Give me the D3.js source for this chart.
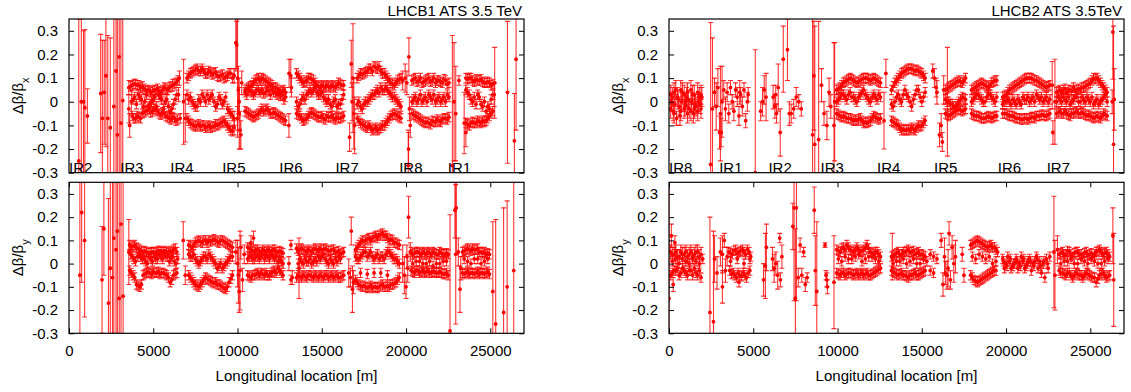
<!DOCTYPE html>
<html>
<head>
<meta charset="utf-8">
<script src="https://cdn.jsdelivr.net/npm/d3@7"></script>
<style>
  body { margin: 0; background: #fff; }
  text { font-family: "Liberation Sans", Arial, sans-serif; }
</style>
</head>
<body>
<div id="chart"></div>
<script>
// rows are [s (m), d(beta)/beta, error]; a missing error means the usual ~0.02
const typErr = 0.02;

const b1x = [
  [580,-.25,.6],[730,0,.35],[860,0,.3],[940,-.025,.33],[1090,-.06,.115],
  [1880,.035,.25],[1980,-.07,.33],[2090,.04,.22],[2190,.11,.3],[2300,-.07,.35],
  [2450,-.11,.38],[2660,-.02,.4],[2790,.13,.6],[2870,-.14,.5],[2980,.19,.5],
  [3080,-.09,.5],[3190,.005,.35],
  [3550,.06,.03],[3750,.07],[3950,.075],[4150,.07],[4350,.065],[4550,.05],[4750,.05],[4950,.045],[5150,.05],[5350,.045],[5550,.05],[5750,.055],[5950,.06],[6150,.07,.025],[6350,.08],[6550,.1,.03],
  [3550,-.03,.06],[3700,0,.05],[3900,.02],[4100,.03],[4300,.01],[4500,0],[4700,-.02],[4900,0],[5100,.02],[5300,.03],[5500,.01],[5700,0],[5900,-.02],[6100,-.03],[6300,.01],[6500,.03,.03],
  [3600,-.1,.05],[3750,-.06],[3950,-.07],[4150,-.065],[4350,-.05],[4550,-.04],[4750,-.03],[4950,-.04],[5150,-.035],[5350,-.05],[5550,-.045],[5750,-.06],[5950,-.07],[6150,-.065],[6350,-.08],[6600,-.07],
  [6800,0,.18],[6900,-.07,.1],
  [7000,.1],[7200,.12],[7400,.13],[7600,.14],[7800,.13],[8000,.13],[8200,.12],[8400,.125],[8600,.12],[8800,.11],[9000,.11],[9200,.1],[9400,.11],[9600,.12],[9800,.11,.03],
  [7000,.03],[7200,.02],[7400,-.01],[7600,-.02],[7800,0],[8000,.02],[8200,.03],[8400,.02],[8600,0],[8800,-.01],[9000,.01],[9200,0],[9400,-.03],[9600,-.05],[9800,-.07,.03],
  [7000,-.07],[7200,-.09],[7400,-.1],[7600,-.1],[7800,-.105],[8000,-.1],[8200,-.105],[8400,-.11],[8600,-.105],[8800,-.1],[9000,-.09],[9200,-.08],[9400,-.1],[9600,-.12],[9800,-.11,.03],
  [9900,.25,.12],[9950,.24,.1],[10000,.1,.25],[10050,.05,.1],[10100,-.05,.15],[10150,-.12,.08],[10200,-.14,.06],[10250,.08,.05],[10000,-.07,.05],[10100,0,.06],
  [10450,.05],[10650,.06],[10850,.07],[11050,.09],[11250,.1],[11450,.1],[11650,.09],[11850,.08],[12050,.07],[12250,.06],[12450,.05],[12650,.045],[12850,.04],
  [10450,.04],[10650,.05],[10850,.04],[11050,.04],[11250,.05],[11450,.05],[11650,.04],[11850,.045],[12050,.05],[12250,.04],[12450,.035],[12650,.03],[12850,.02],
  [10450,-.04],[10650,-.05],[10850,-.06],[11050,-.06],[11250,-.05],[11450,-.03],[11650,-.035],[11850,-.04],[12050,-.05],[12250,-.05],[12450,-.06],[12650,-.07],[12850,-.08],[13050,-.1,.05],
  [13060,.12,.06],[13160,.11,.07],[13200,.06,.04],
  [13500,.12],[13700,.1],[13900,.08],[14100,.09],[14300,.1],[14500,.09],[14700,.07],[14900,.06],[15100,.065],[15300,.07],[15500,.06],[15700,.065],[15900,.07],[16100,.075],[16300,.07],
  [13500,0],[13700,-.01],[13900,.02],[14100,.03],[14300,.05],[14500,.05],[14700,.04],[14900,.03],[15100,.02],[15300,0],[15500,-.01],[15700,0],[15900,-.02],[16100,-.01],[16300,.03],
  [13500,-.05],[13700,-.06],[13900,-.08],[14100,-.07],[14300,-.05],[14500,-.05],[14700,-.06],[14900,-.065],[15100,-.07],[15300,-.06],[15500,-.065],[15700,-.07],[15900,-.065],[16100,-.07],[16300,-.06],
  [16650,-.15,.06],[16750,.16,.1],[16850,.1,.23],[16900,-.05,.15],[16950,-.1,.12],[16800,0,.08],
  [17100,.1],[17300,.12],[17500,.12],[17700,.13],[17900,.14],[18100,.15],[18300,.14],[18500,.13],[18700,.12],[18900,.1],[19100,.08],[19300,.07],[19500,.09],[19700,.1],
  [17100,-.01],[17300,-.02],[17500,-.01],[17700,0],[17900,.02],[18100,.03],[18300,.05],[18500,.06],[18700,.05],[18900,.05],[19100,.03],[19300,.02],[19500,0],[19700,-.02],
  [17100,-.07],[17300,-.09],[17500,-.1],[17700,-.11],[17900,-.11],[18100,-.115],[18300,-.12],[18500,-.11],[18700,-.1],[18900,-.08],[19100,-.06],[19300,-.05],[19500,-.06],[19700,-.07],
  [19800,.09,.04],[19950,.1,.06],[20050,.08,.05],[20130,-.27,.15],[20150,-.2,.07],[20170,.19,.08],[20200,-.03,.05],[20250,-.1,.05],
  [20350,.09],[20550,.1],[20750,.09],[20950,.08],[21150,.09],[21350,.1],[21550,.09],[21750,.08],[21950,.09],[22150,.08],[22350,.09],[22550,.08],
  [20350,0],[20550,.02],[20750,.01],[20950,0],[21150,.02],[21350,.03],[21550,.01],[21750,0],[21950,.02],[22150,.01],[22350,0],[22550,.02],
  [20350,-.05],[20550,-.06],[20750,-.07],[20950,-.08],[21150,-.09],[21350,-.09],[21550,-.08],[21750,-.085],[21950,-.08],[22150,-.075],[22350,-.07],[22550,-.065],
  [22750,-.27,.55],[22850,0,.25],[22950,-.05,.2],
  [23140,.09],[23450,-.09,.13],[23550,-.13,.06],
  [23550,.1],[23750,.1],[23950,.09],[24150,.095],[24350,.09],[24550,.085],[24750,.08],[24950,.08],[25150,.075],
  [23550,.05],[23750,.03],[23950,0],[24150,-.01],[24350,.02],[24550,-.02],[24750,-.04],[24950,-.03],[25150,.03],
  [23550,-.09],[23750,-.1],[23950,-.085],[24150,-.09],[24350,-.085],[24550,-.08],[24750,-.08],[24950,-.06],[25150,-.04],
  [25260,.08,.15],[25230,.03,.05],
  [26020,.04,.3],[26430,-.165,.2],[26530,.18,.3]
];
// the monitors lying between those above, beam 1 horizontal
const b1xMid = [
  [3650,.065],[3850,.075],[4050,.07],[4250,.06],[4450,.055],[4650,.045],[4850,.04],[5050,.05],[5250,.055],[5450,.04],[5650,.06],[5850,.05],[6050,.065],[6250,.075],[6450,.09],
  [3800,.01],[4000,-.01],[4200,.02],[4400,-.02],[4600,.03],[4800,-.01],[5000,.01],[5200,-.02],[5400,.02],[5600,-.03],[5800,.01],[6000,-.04],[6200,-.01],[6400,.03],
  [3850,-.07],[4050,-.06],[4250,-.07],[4450,-.045],[4650,-.035],[4850,-.045],[5050,-.03],[5250,-.04],[5450,-.055],[5650,-.05],[5850,-.065],[6050,-.075],[6250,-.07],[6450,-.075],
  [7100,.11],[7300,.125],[7500,.135],[7700,.13],[7900,.14],[8100,.12],[8300,.13],[8500,.115],[8700,.125],[8900,.105],[9100,.115],[9300,.105],[9500,.12],[9700,.1],
  [7100,.01],[7300,0],[7500,-.02],[7700,.01],[7900,.03],[8100,0],[8300,.01],[8500,.03],[8700,-.02],[8900,.02],[9100,-.01],[9300,.02],[9500,-.04],[9700,-.06],
  [7100,-.08],[7300,-.095],[7500,-.105],[7700,-.095],[7900,-.1],[8100,-.11],[8300,-.1],[8500,-.105],[8700,-.095],[8900,-.095],[9100,-.085],[9300,-.09],[9500,-.11],[9700,-.125],
  [10550,.055],[10750,.065],[10950,.08],[11150,.095],[11350,.09],[11550,.095],[11750,.085],[11950,.075],[12150,.06],[12350,.055],[12550,.04],[12750,.05],
  [10550,.03],[10750,.045],[10950,.03],[11150,.05],[11350,.04],[11550,.035],[11750,.05],[11950,.03],[12150,.04],[12350,.03],[12550,.025],[12750,.01],
  [10550,-.045],[10750,-.055],[10950,-.065],[11150,-.055],[11350,-.04],[11550,-.04],[11750,-.03],[11950,-.05],[12150,-.045],[12350,-.055],[12550,-.065],[12750,-.075],
  [13600,.11],[13800,.09],[14000,.085],[14200,.1],[14400,.095],[14600,.08],[14800,.065],[15000,.07],[15200,.06],[15400,.065],[15600,.07],[15800,.06],[16000,.08],[16200,.07],
  [13600,-.02],[13800,.01],[14000,.01],[14200,.04],[14400,.04],[14600,.06],[14800,.03],[15000,.04],[15200,.01],[15400,.01],[15600,-.02],[15800,.01],[16000,-.01],[16200,.01],
  [13600,-.055],[13800,-.07],[14000,-.075],[14200,-.06],[14400,-.045],[14600,-.055],[14800,-.065],[15000,-.06],[15200,-.075],[15400,-.065],[15600,-.06],[15800,-.075],[16000,-.07],[16200,-.065],
  [17200,.11],[17400,.115],[17600,.125],[17800,.14],[18000,.13],[18200,.145],[18400,.15],[18600,.12],[18800,.11],[19000,.09],[19200,.075],[19400,.08],[19600,.095],
  [17200,0],[17400,-.03],[17600,0],[17800,.01],[18000,.03],[18200,.04],[18400,.04],[18600,.05],[18800,.06],[19000,.04],[19200,.02],[19400,.01],[19600,-.01],
  [17200,-.08],[17400,-.095],[17600,-.105],[17800,-.1],[18000,-.12],[18200,-.11],[18400,-.115],[18600,-.1],[18800,-.09],[19000,-.07],[19200,-.055],[19400,-.055],[19600,-.065],
  [20450,.095],[20650,.085],[20850,.1],[21050,.085],[21250,.095],[21450,.085],[21650,.1],[21850,.09],[22050,.085],[22250,.095],[22450,.075],
  [20450,.01],[20650,0],[20850,.03],[21050,.01],[21250,0],[21450,.02],[21650,.03],[21850,.01],[22050,0],[22250,.02],[22450,.03],
  [20450,-.055],[20650,-.065],[20850,-.075],[21050,-.085],[21250,-.085],[21450,-.095],[21650,-.085],[21850,-.075],[22050,-.085],[22250,-.07],[22450,-.075],
  [23650,.095],[23850,.1],[24050,.085],[24250,.09],[24450,.095],[24650,.08],[24850,.085],[25050,.07],
  [23650,.04],[23850,.01],[24050,.02],[24250,.03],[24450,-.01],[24650,0],[24850,-.02],[25050,.01],
  [23650,-.095],[23850,-.09],[24050,-.09],[24250,-.08],[24450,-.09],[24650,-.085],[24850,-.07],[25050,-.05]
];

const b1y = [
  [645,-.05,.6],[750,.22,.3],[925,.1,.33],[1960,-.07,.23],[2070,.15,.2],[2340,-.17,.45],[2450,-.02,.45],
  [2580,-.06,.5],[2660,.11,.5],[2790,.06,.55],[2870,.14,.5],[2980,-.15,.5],[3085,.17,.5],[3210,-.14,.5],
  [3550,.05,.14],
  [3600,.08],[3800,.075],[4000,.07],[4200,.06],[4400,.05],[4600,.05],[4800,.045],[5000,.05],[5200,.05],[5400,.055],[5600,.05],[5800,.05],[6000,.055],[6200,.06],[6400,.05],
  [3650,.04],[3850,.02],[4050,.03],[4250,.03],[4450,.02],[4650,0],[4850,.02],[5050,.03],[5250,.02],[5450,.03],[5650,.04],[5850,.03],[6050,.02],[6250,.01],[6450,.02],
  [3600,-.03],[3800,-.05],[4000,-.09],[4200,-.1],[4400,-.05],[4600,-.04],[4800,-.04],[5000,-.035],[5200,-.04],[5400,-.045],[5600,-.04],[5800,-.05],[6000,-.08],[6200,-.05],[6400,-.04],
  [6780,.1,.08],[6900,-.05,.04],
  [7100,.08],[7300,.07],[7500,.09],[7700,.1],[7900,.09],[8100,.1],[8300,.1],[8500,.1],[8700,.1],[8900,.09],[9100,.1],[9300,.09],[9500,.08],[9700,.07],
  [7100,.04],[7300,.03],[7500,.02],[7700,0],[7900,.02],[8100,.03],[8300,.04],[8500,.02],[8700,0],[8900,-.01],[9100,-.02],[9300,0],[9500,.02],[9700,.03],
  [7100,-.05],[7300,-.07],[7500,-.09],[7700,-.1],[7900,-.08],[8100,-.06],[8300,-.07],[8500,-.08],[8700,-.08],[8900,-.09],[9100,-.1],[9300,-.11],[9500,-.08],[9700,-.05],
  [9900,.05,.05],[10000,0,.1],[10050,-.05,.12],[10100,-.12,.09],[10150,-.03,.17],[10200,.07,.05],[10300,-.07,.05],[10400,.04,.04],[10950,.11,.03],[10800,.09,.03],
  [10600,.07],[10800,.06],[11000,.05],[11200,.06],[11400,.05],[11600,.055],[11800,.06],[12000,.05],[12200,.06],[12400,.05],[12600,.05],
  [10600,.02],[10800,.03],[11000,.02],[11200,.03],[11400,.03],[11600,.02],[11800,.03],[12000,.04],[12200,.02],[12400,.01],[12600,.01],
  [10600,-.05],[10800,-.06],[11000,-.05],[11200,-.04],[11400,-.04],[11600,-.05],[11800,-.05],[12000,-.04],[12200,-.03],[12400,-.02],[12600,-.04],
  [13050,0,.03],[13170,.08],[13170,-.07],[13250,-.06,.03],
  [13650,-.02,.13],
  [13500,.065],[13700,.06],[13900,.06],[14100,.05],[14300,.055],[14500,.06],[14700,.06],[14900,.065],[15100,.06],[15300,.06],[15500,.055],[15700,.06],[15900,.05],[16100,.04],[16300,.05],
  [13600,0],[13800,.01],[14000,.02],[14200,.01],[14400,0],[14600,.02],[14800,.03],[15000,.03],[15200,.02],[15400,0],[15600,.01],[15800,.02],[16000,.03],
  [13500,-.06],[13700,-.055],[13900,-.05],[14100,-.06],[14300,-.05],[14500,-.06],[14700,-.055],[14900,-.05],[15100,-.06],[15300,-.05],[15500,-.055],[15700,-.06],[15900,-.05],[16100,-.06],[16300,-.05],
  [16600,-.04,.06],[16700,-.06,.04],[16750,.14,.06],[16820,-.11,.1],[16880,-.08,.05],
  [17000,.06],[17200,.08],[17400,.1],[17600,.1],[17800,.11],[18000,.11],[18200,.12],[18400,.12],[18600,.13],[18800,.12],[19000,.1],[19200,.1],[19400,.09],[19600,.08],
  [17000,.03],[17200,.02],[17400,.04],[17600,.05],[17800,.04],[18000,.03],[18200,.03],[18400,.02],[18600,.03],[18800,.04],[19000,.05],[19200,.03],[19400,.02],[19600,0],
  [17000,-.07],[17200,-.09],[17400,-.1],[17600,-.1],[17800,-.1],[18000,-.105],[18200,-.1],[18400,-.1],[18600,-.09],[18800,-.1],[19000,-.1],[19200,-.09],[19400,-.08],[19600,-.06],
  [17300,-.04],[17700,-.045],[18100,-.04],[18500,-.04],[18900,-.05],
  [19800,0,.08],[19900,-.05,.08],[20000,-.1,.05],[20050,.03,.05],[20100,-.02,.06],[20150,.2,.09],[20250,.05,.04],
  [20300,.05],[20500,.045],[20700,.05],[20900,.04],[21100,.045],[21300,.05],[21500,.04],[21700,.045],[21900,.04],[22100,.045],[22300,.04],[22500,.04],
  [20400,0],[20800,.01],[21200,0],[21600,-.01],[22000,0],[22400,.01],
  [20300,-.03],[20500,-.04],[20700,-.03],[20900,-.035],[21100,-.04],[21300,-.03],[21500,-.04],[21700,-.035],[21900,-.04],[22100,-.04],[22300,-.045],[22500,-.05],
  [22610,-.29,.5],
  [22900,.23,.12],[22950,.04,.3],[22980,.24,.2],[23100,.05,.06],[23200,-.11,.1],[23250,-.02,.05],
  [23350,.05],[23550,.06],[23750,.06],[23950,.065],[24150,.06],[24350,.05],[24550,.045],[24750,.04],[24950,.04],
  [23450,.02],[23850,0],[24250,.02],[24650,.01],
  [23350,-.04],[23550,-.04],[23750,-.045],[23950,-.04],[24150,-.04],[24350,-.045],[24550,-.04],[24750,-.04],[24950,-.045],
  [25150,-.12,.3],[25320,-.26,.45],[25790,-.21,.45],[26000,-.1,.37],[26390,-.03,.4]
];
const b1yMid = [
  [3700,.07],[3900,.08],[4100,.065],[4300,.055],[4500,.055],[4700,.045],[4900,.05],[5100,.045],[5300,.055],[5500,.05],[5700,.055],[5900,.045],[6100,.05],[6300,.065],
  [3750,.03],[3950,.01],[4150,.04],[4350,.02],[4550,.01],[4750,.03],[4950,.01],[5150,.02],[5350,.04],[5550,.02],[5750,.03],[5950,.01],[6150,.03],[6350,0],
  [3700,-.04],[3900,-.06],[4100,-.095],[4300,-.09],[4500,-.045],[4700,-.035],[4900,-.045],[5100,-.04],[5300,-.035],[5500,-.04],[5700,-.045],[5900,-.06],[6100,-.07],[6300,-.045],
  [7200,.075],[7400,.08],[7600,.095],[7800,.095],[8000,.1],[8200,.09],[8400,.095],[8600,.105],[8800,.095],[9000,.1],[9200,.095],[9400,.085],[9600,.075],
  [7200,.03],[7400,.04],[7600,.01],[7800,.01],[8000,.03],[8200,.02],[8400,.03],[8600,.01],[8800,-.02],[9000,0],[9200,-.01],[9400,.01],[9600,.03],
  [7200,-.06],[7400,-.08],[7600,-.095],[7800,-.09],[8000,-.07],[8200,-.065],[8400,-.075],[8600,-.085],[8800,-.09],[9000,-.095],[9200,-.105],[9400,-.1],[9600,-.065],
  [10700,.065],[10900,.055],[11100,.06],[11300,.05],[11500,.06],[11700,.05],[11900,.055],[12100,.06],[12300,.05],[12500,.055],[12700,.045],
  [10700,.03],[10900,.02],[11100,.03],[11300,.02],[11500,.04],[11700,.03],[11900,.02],[12100,.03],[12300,.03],[12500,.02],[12700,0],
  [10700,-.055],[10900,-.05],[11100,-.045],[11300,-.05],[11500,-.045],[11700,-.04],[11900,-.05],[12100,-.035],[12300,-.04],[12500,-.03],[12700,-.05],
  [13600,.055],[13800,.065],[14000,.055],[14200,.06],[14400,.05],[14600,.065],[14800,.055],[15000,.06],[15200,.065],[15400,.055],[15600,.06],[15800,.05],[16000,.055],[16200,.045],
  [13700,.02],[13900,0],[14100,.01],[14300,.02],[14500,.01],[14700,.01],[14900,.02],[15100,.04],[15300,.01],[15500,.02],[15700,0],[15900,.01],[16100,.02],
  [13600,-.05],[13800,-.06],[14000,-.055],[14200,-.05],[14400,-.055],[14600,-.05],[14800,-.06],[15000,-.055],[15200,-.05],[15400,-.06],[15600,-.05],[15800,-.055],[16000,-.06],[16200,-.055],
  [17100,.07],[17300,.09],[17500,.095],[17700,.105],[17900,.1],[18100,.115],[18300,.11],[18500,.125],[18700,.12],[18900,.11],[19100,.105],[19300,.09],[19500,.085],
  [17100,.02],[17300,.03],[17500,.05],[17700,.03],[17900,.05],[18100,.02],[18300,.04],[18500,.03],[18700,.02],[18900,.05],[19100,.04],[19300,.02],[19500,.01],
  [17100,-.08],[17300,-.095],[17500,-.095],[17700,-.105],[17900,-.095],[18100,-.1],[18300,-.105],[18500,-.095],[18700,-.1],[18900,-.095],[19100,-.09],[19300,-.085],[19500,-.07],
  [20400,.04],[20600,.05],[20800,.045],[21000,.05],[21200,.04],[21400,.045],[21600,.05],[21800,.04],[22000,.05],[22200,.04],[22400,.045],
  [20600,.01],[21000,0],[21400,.01],[21800,0],[22200,.01],
  [20400,-.035],[20600,-.03],[20800,-.04],[21000,-.03],[21200,-.035],[21400,-.04],[21600,-.035],[21800,-.04],[22000,-.035],[22200,-.045],[22400,-.04],
  [23450,.055],[23650,.065],[23850,.055],[24050,.06],[24250,.065],[24450,.05],[24650,.05],[24850,.045],
  [23650,.01],[24050,.02],[24450,0],[24850,.02],
  [23450,-.045],[23650,-.035],[23850,-.04],[24050,-.045],[24250,-.035],[24450,-.04],[24650,-.045],[24850,-.035]
];

const b2x = [
  [100,.03,.04],[300,.04,.04],[500,.02,.04],[700,.05,.04],[900,.03,.04],[1100,.04,.04],[1300,.05,.04],[1500,.03,.04],[1700,.04,.04],[1900,.03,.04],
  [150,0,.04],[350,-.01,.04],[550,.01,.04],[750,0,.04],[950,-.02,.04],[1150,.01,.04],[1350,0,.04],[1550,-.01,.04],[1750,0,.04],[1950,.02,.04],
  [100,-.03,.04],[300,-.05,.04],[450,-.07,.03],[700,-.04,.04],[900,-.03,.04],[1100,-.05,.04],[1300,-.04,.04],[1500,-.03,.04],[1700,-.04,.04],[1900,-.03,.04],
  [2470,-.265,.6],[2580,-.03,.3],
  [2700,.04,.06],[2800,-.02,.1],[2900,.06,.08],[3000,-.13,.07],[3050,-.05,.2],[3100,-.13,.06],[3150,0,.15],[3250,.05,.04],[3350,-.03,.05],[3450,.04,.04],
  [3550,-.05,.04],[3650,.06,.03],[3750,0,.03],[3850,-.04,.04],[3950,.05,.03],[4050,.02,.04],[4150,-.06,.04],[4200,.04,.05],[4250,.03,.03],[4350,-.02,.04],
  [4450,.05,.03],[4550,-.08,.03],[4650,0,.04],[4700,.03,.03],
  [5120,-.3,.52],
  [5440,-.04,.04],[5550,0,.06],[5650,.05,.06],[5760,.02,.1],
  [6180,.02,.05],[6280,-.02,.05],[6330,.03,.04],[6380,-.05,.04],[6480,.06,.1],[6600,-.13,.1],[6780,.18,.14],[7030,.22,.13],[7140,-.05,.05],
  [7250,-.05,.04],[7400,-.03,.04],[7550,.02,.04],[7700,0,.03],[7850,-.03,.03],
  [8520,-.14,.5],[8600,.11,.23],[8650,-.18,.5],[8880,-.16,.5],[9050,.07,.07],[9200,-.05,.05],[9370,-.1,.06],[9500,.04,.06],[9600,-.02,.05],[9790,-.1,.35],[9830,0,.25],
  [9950,.05],[10150,.06],[10350,.08],[10550,.09],[10750,.1],[10950,.09],[11150,.08],[11350,.09],[11550,.1],[11750,.1],[11950,.09],[12150,.1],[12350,.09],[12550,.08],
  [9950,0],[10150,.02],[10350,.03],[10550,.01],[10750,.04],[10950,.02],[11150,0],[11350,.03],[11550,.05],[11750,.02],[11950,0],[12150,.03],[12350,.01],[12550,.02],
  [9950,-.05],[10150,-.06],[10350,-.06],[10550,-.07],[10750,-.07],[10950,-.08],[11150,-.08],[11350,-.07],[11550,-.09],[11750,-.09],[11950,-.08],[12150,-.06],[12350,-.07],[12550,-.07],
  [12760,-.08,.12],[12870,.12,.06],
  [13200,.05],[13400,.08],[13600,.1],[13800,.12],[14000,.13],[14200,.14],[14400,.14],[14600,.13],[14800,.13],[15000,.12],[15200,.1],
  [13200,-.01],[13400,0],[13600,.03],[13800,0],[14000,.05],[14200,.02],[14400,-.02],[14600,.03],[14800,.05],[15000,0],[15200,.04],
  [13200,-.08],[13400,-.09],[13600,-.1],[13800,-.12],[14000,-.12],[14200,-.115],[14400,-.11],[14600,-.12],[14800,-.1],[15000,-.1],[15200,-.08],
  [15650,.13,.03],[15750,.1,.04],[15850,.06,.04],[15900,.04,.05],[16050,-.14,.05],[16150,-.1,.05],[16220,-.17,.04],[16300,.05,.06],[16520,0,.23],
  [16400,.05],[16600,.06],[16800,.07],[17000,.08],[17200,.09],[17400,.08],[17600,.1],
  [16400,.01],[16600,0],[16800,-.01],[17000,-.02],[17200,0],[17400,.02],[17600,.01],
  [16400,-.05],[16600,-.06],[16800,-.05],[17000,-.04],[17200,-.03],[17400,-.04],[17600,-.03],
  [17950,.05],[18150,.06],[18350,.07],[18550,.08],[18750,.07],[18950,.06],[19150,.08],[19350,.09],
  [17950,0],[18150,.02],[18350,.03],[18550,.01],[18750,0],[18950,.03],[19150,.02],[19350,0],
  [17950,-.05],[18150,-.06],[18350,-.06],[18550,-.07],[18750,-.07],[18950,-.06],[19150,-.07],[19350,-.06],
  [19800,.02],[20000,.03],[20200,.05],[20400,.06],[20600,.07],[20800,.08],[21000,.09],[21200,.1],[21400,.1],[21600,.095],[21800,.09],[22000,.08],[22200,.07],[22400,.06],[22600,.07],
  [19800,-.01],[20000,0],[20200,0],[20400,.01],[20600,-.01],[20800,0],[21000,.02],[21200,.01],[21400,0],[21600,.02],[21800,.03],[22000,.01],[22200,0],[22400,.02],[22600,.01],
  [19800,-.05],[20000,-.05],[20200,-.06],[20400,-.06],[20600,-.07],[20800,-.07],[21000,-.075],[21200,-.07],[21400,-.07],[21600,-.065],[21800,-.06],[22000,-.06],[22200,-.055],[22400,-.06],[22600,-.05],
  [22740,.07,.1],[22780,-.13,.05],[22900,0,.18],
  [23000,.04],[23200,.05],[23400,.05],[23600,.04],[23800,.05],[24000,.06],[24200,.05],[24400,.05],[24600,.06],[24800,.07],[25000,.08],[25200,.1],[25400,.1],[25600,.08],[25800,.06],[26000,.04],
  [23000,0],[23200,.01],[23400,.02],[23600,0],[23800,-.01],[24000,.01],[24200,.02],[24400,0],[24600,.01],[24800,.02],[25000,0],[25200,-.01],[25400,.01],[25600,0],[25800,.02],[26000,0],
  [23000,-.05],[23200,-.04],[23400,-.05],[23600,-.05],[23800,-.06],[24000,-.05],[24200,-.04],[24400,-.05],[24600,-.05],[24800,-.06],[25000,-.06],[25200,-.07],[25400,-.06],[25600,-.07],[25800,-.05],[26000,-.06],
  [26300,0,.05],[26340,.295,.2],[26380,-.18,.5],[26420,.01,.13]
];
const b2xMid = [
  [200,.02,.04],[400,.05,.04],[600,-.02,.04],[800,.04,.04],[1000,0,.04],[1200,-.03,.04],[1400,.03,.04],[1600,-.02,.04],[1800,.02,.04],
  [250,-.04,.04],[650,-.06,.04],[1050,.02,.04],[1450,-.05,.04],[1850,-.01,.04],
  [10050,.055],[10250,.07],[10450,.085],[10650,.095],[10850,.095],[11050,.085],[11250,.085],[11450,.095],[11650,.1],[11850,.095],[12050,.095],[12250,.095],[12450,.085],
  [10050,.01],[10250,.03],[10450,.02],[10650,.03],[10850,.02],[11050,.01],[11250,.02],[11450,.04],[11650,.03],[11850,.01],[12050,.02],[12250,.02],[12450,.03],
  [10050,-.055],[10250,-.065],[10450,-.065],[10650,-.07],[10850,-.075],[11050,-.075],[11250,-.075],[11450,-.08],[11650,-.085],[11850,-.085],[12050,-.07],[12250,-.065],[12450,-.075],
  [13300,.065],[13500,.09],[13700,.11],[13900,.125],[14100,.135],[14300,.14],[14500,.135],[14700,.135],[14900,.125],[15100,.11],
  [13300,-.02],[13500,.02],[13700,.01],[13900,.03],[14100,.03],[14300,0],[14500,.01],[14700,.05],[14900,.02],[15100,.02],
  [13300,-.085],[13500,-.095],[13700,-.11],[13900,-.115],[14100,-.12],[14300,-.12],[14500,-.115],[14700,-.11],[14900,-.105],[15100,-.09],
  [16500,.055],[16700,.065],[16900,.075],[17100,.085],[17300,.085],[17500,.09],
  [16500,0],[16700,-.01],[16900,-.02],[17100,-.01],[17300,.01],[17500,.015],
  [16500,-.055],[16700,-.055],[16900,-.045],[17100,-.035],[17300,-.035],[17500,-.035],
  [18050,.055],[18250,.065],[18450,.075],[18650,.075],[18850,.065],[19050,.07],[19250,.085],[19450,.09],
  [18050,.01],[18250,.03],[18450,.02],[18650,0],[18850,.02],[19050,.03],[19250,.01],[19450,.02],
  [18050,-.055],[18250,-.06],[18450,-.065],[18650,-.07],[18850,-.065],[19050,-.065],[19250,-.065],[19450,-.06],
  [19900,.025],[20100,.04],[20300,.055],[20500,.065],[20700,.075],[20900,.085],[21100,.095],[21300,.1],[21500,.1],[21700,.09],[21900,.085],[22100,.075],[22300,.065],[22500,.065],
  [19900,0],[20100,.01],[20300,-.01],[20500,0],[20700,.01],[20900,-.01],[21100,.01],[21300,.02],[21500,.01],[21700,0],[21900,.02],[22100,.02],[22300,.01],[22500,0],
  [19900,-.05],[20100,-.055],[20300,-.06],[20500,-.065],[20700,-.07],[20900,-.075],[21100,-.07],[21300,-.075],[21500,-.065],[21700,-.07],[21900,-.06],[22100,-.055],[22300,-.06],[22500,-.055],
  [23100,.045],[23300,.04],[23500,.055],[23700,.05],[23900,.045],[24100,.05],[24300,.055],[24500,.06],[24700,.065],[24900,.075],[25100,.09],[25300,.095],[25500,.09],[25700,.07],[25900,.05],
  [23100,.02],[23300,0],[23500,.01],[23700,.02],[23900,0],[24100,.02],[24300,0],[24500,.02],[24700,0],[24900,.01],[25100,.02],[25300,0],[25500,-.01],[25700,.01],[25900,.03],
  [23100,-.045],[23300,-.05],[23500,-.04],[23700,-.055],[23900,-.05],[24100,-.045],[24300,-.05],[24500,-.045],[24700,-.055],[24900,-.055],[25100,-.065],[25300,-.065],[25500,-.065],[25700,-.06],[25900,-.055]
];

const b2y = [
  [0,-.15,.5],
  [100,.05,.03],[300,.04,.03],[500,.03,.03],[700,.05,.03],[900,.04,.03],[1100,.03,.03],[1300,.05,.03],[1500,.04,.03],[1700,.05,.03],[1900,.04,.03],
  [200,.01],[400,.02],[600,0],[800,.02],[1000,.01],[1200,0],[1400,.02],[1600,.01],[1800,0],[2000,.02],
  [100,-.05],[300,-.03],[500,-.02],[700,-.04],[900,-.03],[1100,-.05],[1300,-.03],[1500,-.02],[1700,-.05],[1900,-.06],
  [140,.12,.05],[250,-.09,.03],[350,.09,.03],
  [2430,-.21,.41],[2640,-.25,.39],
  [2700,.02,.1],[2850,-.04,.07],[3050,.05,.06],[3170,.04,.08],[3170,-.1,.07],[3280,.1,.03],[3350,-.03,.05],[3450,.03,.04],
  [3550,.05],[3750,.04],[3950,.06],[4150,.05],[4350,.06],[4550,.04],[4750,.05],[4850,.03],
  [3650,.01],[4050,.02],[4450,0],[4800,.02],
  [3600,-.03],[3800,-.04],[4000,-.06],[4200,-.05],[4400,-.04],[4600,-.06],[4800,-.03],[4150,-.08],
  [5610,-.07,.07],[5720,-.01,.14],[5780,.07,.1],
  [6140,.02,.05],[6240,-.02,.06],[6340,0,.05],[6450,-.05,.06],[6570,.11],[6610,-.07,.03],[6700,.03,.05],
  [7350,.16,.1],[7420,.24,.4],[7500,-.15,.3],[7560,.24,.4],[7670,-.06,.04],[7780,.08,.03],[7880,-.05,.03],[7990,.05],[8090,-.09,.03],[8200,-.06],
  [8620,.23,.1],[8680,-.03,.15],[8770,-.12,.3],
  [9260,.08,.01],[9320,-.05],[9360,-.07,.03],[9400,-.1,.03],
  [9790,-.08,.2],
  [9950,.06],[10150,.05],[10350,.07],[10550,.08],[10750,.06],[10950,.05],[11150,.07],[11350,.05],[11550,.06],[11750,.08],[11950,.05],[12150,.04],[12350,.05],[12550,.03],
  [10050,.02],[10450,.03],[10850,.02],[11250,.04],[11650,.02],[12050,.03],[12450,.01],
  [9950,-.04],[10150,-.05],[10350,-.04],[10550,-.045],[10750,-.04],[10950,-.05],[11150,-.04],[11350,-.045],[11550,-.05],[11750,-.04],[11950,-.05],[12150,-.04],[12350,-.03],[12550,-.02],
  [13250,.03,.1],
  [13200,.03],[13400,.04],[13600,.05],[13800,.04],[14000,.05],[14200,.06],[14400,.05],[14600,.04],[14800,.05],[15000,.04],[15200,.03],
  [13300,0],[13700,.01],[14100,0],[14500,.02],[14900,0],[15300,.01],
  [13200,-.03],[13400,-.04],[13600,-.05],[13800,-.04],[14000,-.05],[14200,-.06],[14400,-.05],[14600,-.04],[14800,-.05],[15000,-.04],[15200,-.03],
  [15500,.04],[15700,.03],[15900,.02],[15500,-.03],[15700,-.04],
  [16150,.1,.03],[16260,-.09,.05],[16350,.03,.08],[16400,-.04,.05],[16500,-.05,.06],[16560,-.02,.08],[16620,.13,.05],[16700,-.07,.04],[16800,.07,.05],[16900,0,.08],[17000,.03,.07],
  [17400,.04,.03],[17500,-.05,.03],
  [17900,.08],[18100,.09],[18300,.1],[18500,.09],[18700,.08],[18900,.07],[19100,.08],[19300,.07],[19500,.05],
  [18000,.03],[18400,.04],[18800,.02],[19200,0],
  [17900,-.05],[18100,-.07],[18300,-.08],[18500,-.07],[18700,-.06],[18900,-.05],[19100,-.04],[19300,-.03],
  [19800,.02],[20000,0],[20200,.01],[20400,-.01],[20600,.02],[20800,0],[21000,.01],[21200,-.01],[21400,.02],[21600,0],[21800,.03],[22000,.01],[22200,0],[22400,.02],[22600,.03],
  [19900,-.02],[20100,.03],[20300,-.02],[20500,0],[20700,-.02],[20900,.03],[21100,-.02],[21300,.01],[21500,-.03],[21700,.01],[21900,-.02],[22100,-.04],[22300,-.06],[22500,-.02],
  [22840,.05,.24],[22900,-.05,.15],[23050,.06,.06],
  [23150,.04],[23350,.05],[23550,.04],[23750,.05],[23950,.03],[24150,.05],[24350,.04],[24550,.03],[24750,.05],[24950,.04],[25150,.03],[25350,.05],[25550,.06],[25750,.04],[25950,.05],[26150,.03],
  [23250,0],[23650,.01],[24050,0],[24450,.02],[24850,0],[25250,.01],[25650,0],[26050,.02],
  [23150,-.03],[23350,-.04],[23550,-.05],[23750,-.04],[23950,-.06],[24150,-.04],[24350,-.05],[24550,-.06],[24750,-.04],[24950,-.05],[25150,-.06],[25350,-.08],[25550,-.05],[25750,-.04],[25950,-.06],[26150,-.05],
  [26340,.12,.12],[26390,-.07,.2]
];
const b2yMid = [
  [200,.04,.03],[400,.05,.03],[600,.03,.03],[800,.04,.03],[1000,.05,.03],[1200,.04,.03],[1400,.03,.03],[1600,.05,.03],[1800,.03,.03],
  [200,-.04],[400,-.03],[600,-.05],[800,-.02],[1000,-.04],[1200,-.03],[1400,-.05],[1600,-.04],[1800,-.03],
  [3650,.045],[3850,.055],[4050,.045],[4250,.055],[4450,.05],[4650,.06],[3700,-.045],[3900,-.05],[4100,-.04],[4300,-.055],[4500,-.05],[4700,-.04],
  [10050,.055],[10250,.065],[10450,.06],[10650,.07],[10850,.055],[11050,.06],[11250,.06],[11450,.055],[11650,.07],[11850,.065],[12050,.045],[12250,.05],[12450,.04],
  [10250,.01],[10650,.02],[11050,.03],[11450,.01],[11850,.03],[12250,.02],
  [10050,-.045],[10250,-.04],[10450,-.05],[10650,-.04],[10850,-.045],[11050,-.045],[11250,-.05],[11450,-.04],[11650,-.045],[11850,-.05],[12050,-.045],[12250,-.035],[12450,-.025],
  [13300,.035],[13500,.045],[13700,.04],[13900,.05],[14100,.055],[14300,.05],[14500,.055],[14700,.045],[14900,.04],[15100,.035],
  [13500,.01],[13900,.02],[14300,.01],[14700,0],[15100,.02],
  [13300,-.035],[13500,-.045],[13700,-.045],[13900,-.05],[14100,-.055],[14300,-.05],[14500,-.045],[14700,-.05],[14900,-.045],[15100,-.035],
  [18000,.085],[18200,.095],[18400,.095],[18600,.085],[18800,.075],[19000,.075],[19200,.07],[19400,.06],
  [18200,.02],[18600,.03],[19000,.03],[19400,.01],
  [18000,-.06],[18200,-.075],[18400,-.075],[18600,-.065],[18800,-.055],[19000,-.045],[19200,-.035],[19400,-.03],
  [19850,.01],[20050,-.01],[20250,.02],[20450,0],[20650,.01],[20850,-.01],[21050,.02],[21250,0],[21450,.01],[21650,-.01],[21850,.02],[22050,-.01],[22250,.01],[22450,0],
  [23250,.045],[23450,.04],[23650,.055],[23850,.04],[24050,.045],[24250,.05],[24450,.04],[24650,.045],[24850,.035],[25050,.045],[25250,.04],[25450,.055],[25650,.05],[25850,.045],[26050,.04],
  [23450,.01],[23850,.02],[24250,0],[24650,.01],[25050,.02],[25450,0],[25850,.01],
  [23250,-.04],[23450,-.045],[23650,-.04],[23850,-.05],[24050,-.05],[24250,-.045],[24450,-.05],[24650,-.05],[24850,-.045],[25050,-.055],[25250,-.06],[25450,-.065],[25650,-.045],[25850,-.05],[26050,-.055]
];

// interaction region labels: [name, s where the label starts]
const irB1 = [['IR2',0],['IR3',3040],['IR4',6010],['IR5',9090],['IR6',12480],['IR7',15810],['IR8',19590],['IR1',22480]];
const irB2 = [['IR8',0],['IR1',2980],['IR2',5900],['IR3',8990],['IR4',12350],['IR5',15730],['IR6',19510],['IR7',22410]];

const xTicks = [0, 5000, 10000, 15000, 20000, 25000];
const yTicks = [-0.3, -0.2, -0.1, 0, 0.1, 0.2, 0.3];

const panels = [
  { id: 'p1', rows: b1x.concat(b1xMid), left: 69, top: 19, bottom: 172.7, sub: 'x', irs: irB1, title: 'LHCB1 ATS 3.5 TeV' },
  { id: 'p2', rows: b1y.concat(b1yMid), left: 69, top: 182.3, bottom: 333.3, sub: 'y', xAxis: true },
  { id: 'p3', rows: b2x.concat(b2xMid), left: 669, top: 19, bottom: 172.7, sub: 'x', irs: irB2, title: 'LHCB2 ATS 3.5TeV' },
  { id: 'p4', rows: b2y.concat(b2yMid), left: 669, top: 182.3, bottom: 333.3, sub: 'y', xAxis: true }
];
const plotW = 455;
const red = '#ff0000';

const svg = d3.select('#chart').append('svg')
  .attr('width', 1131)
  .attr('height', 392);

panels.forEach(p => {
  const x = d3.scaleLinear().domain([0, 27000]).range([p.left, p.left + plotW]);
  const y = d3.scaleLinear().domain([-0.3, 0.35]).range([p.bottom, p.top]);

  svg.append('clipPath').attr('id', 'clip-' + p.id)
    .append('rect')
    .attr('x', p.left).attr('y', p.top)
    .attr('width', plotW).attr('height', p.bottom - p.top);

  const g = svg.append('g').attr('clip-path', `url(#clip-${p.id})`);
  const rows = p.rows.map(r => ({ s: r[0], v: r[1], e: r.length > 2 ? r[2] : typErr }));

  // error bars
  const bars = g.append('g')
    .attr('stroke', red)
    .attr('stroke-width', 1.1)
    .attr('stroke-opacity', 0.8);
  bars.selectAll('line.bar')
    .data(rows)
    .enter().append('line')
    .attr('class', 'bar')
    .attr('x1', d => x(d.s)).attr('x2', d => x(d.s))
    .attr('y1', d => y(d.v + d.e)).attr('y2', d => y(d.v - d.e));
  bars.selectAll('line.capHi')
    .data(rows)
    .enter().append('line')
    .attr('class', 'capHi')
    .attr('x1', d => x(d.s) - 2.5).attr('x2', d => x(d.s) + 2.5)
    .attr('y1', d => y(d.v + d.e)).attr('y2', d => y(d.v + d.e));
  bars.selectAll('line.capLo')
    .data(rows)
    .enter().append('line')
    .attr('class', 'capLo')
    .attr('x1', d => x(d.s) - 2.5).attr('x2', d => x(d.s) + 2.5)
    .attr('y1', d => y(d.v - d.e)).attr('y2', d => y(d.v - d.e));

  // points
  g.append('g').selectAll('circle')
    .data(rows)
    .enter().append('circle')
    .attr('cx', d => x(d.s))
    .attr('cy', d => y(d.v))
    .attr('r', 1.9)
    .attr('fill', red);

  // y axes, ticks pointing inwards
  const yl = svg.append('g')
    .attr('transform', `translate(${p.left},0)`)
    .call(d3.axisLeft(y).tickValues(yTicks).tickSize(-5).tickPadding(11).tickFormat(d => String(d)));
  const yr = svg.append('g')
    .attr('transform', `translate(${p.left + plotW},0)`)
    .call(d3.axisRight(y).tickValues(yTicks).tickSize(-5).tickFormat(''));
  [yl, yr].forEach(a => a.select('.domain').remove());

  if (p.xAxis) {
    const xb = svg.append('g')
      .attr('transform', `translate(0,${p.bottom})`)
      .call(d3.axisBottom(x).tickValues(xTicks).tickSize(-5).tickPadding(12).tickFormat(d => String(d)));
    const xt = svg.append('g')
      .attr('transform', `translate(0,${p.top})`)
      .call(d3.axisTop(x).tickValues(xTicks).tickSize(-5).tickFormat(''));
    [xb, xt].forEach(a => a.select('.domain').remove());

    svg.append('text')
      .attr('x', p.left + plotW / 2)
      .attr('y', 381)
      .attr('text-anchor', 'middle')
      .style('font-size', '15px')
      .text('Longitudinal location [m]');
  }

  svg.selectAll('.tick text')
    .style('font-size', '15px')
    .style('font-family', '"Liberation Sans", Arial, sans-serif')
    .attr('fill', '#000');
  svg.selectAll('.tick line').attr('stroke', '#000');

  // frame
  svg.append('rect')
    .attr('x', p.left).attr('y', p.top)
    .attr('width', plotW).attr('height', p.bottom - p.top)
    .attr('fill', 'none')
    .attr('stroke', '#000')
    .attr('stroke-width', 1.2);

  // y label
  const yLab = svg.append('text')
    .attr('transform', `translate(${p.left - 46},${(p.top + p.bottom) / 2}) rotate(-90)`)
    .attr('text-anchor', 'middle')
    .style('font-size', '15px');
  yLab.append('tspan').text('\u0394\u03b2/\u03b2');
  yLab.append('tspan').attr('baseline-shift', 'sub').style('font-size', '11px').text(p.sub);

  if (p.irs) {
    svg.append('g').selectAll('text')
      .data(p.irs)
      .enter().append('text')
      .attr('x', d => x(d[1]))
      .attr('y', p.bottom + 0.5)
      .style('font-size', '15px')
      .text(d => d[0]);
  }

  if (p.title) {
    svg.append('text')
      .attr('x', p.left + plotW - 2)
      .attr('y', 16)
      .attr('text-anchor', 'end')
      .style('font-size', '15px')
      .text(p.title);
  }
});
</script>
</body>
</html>
